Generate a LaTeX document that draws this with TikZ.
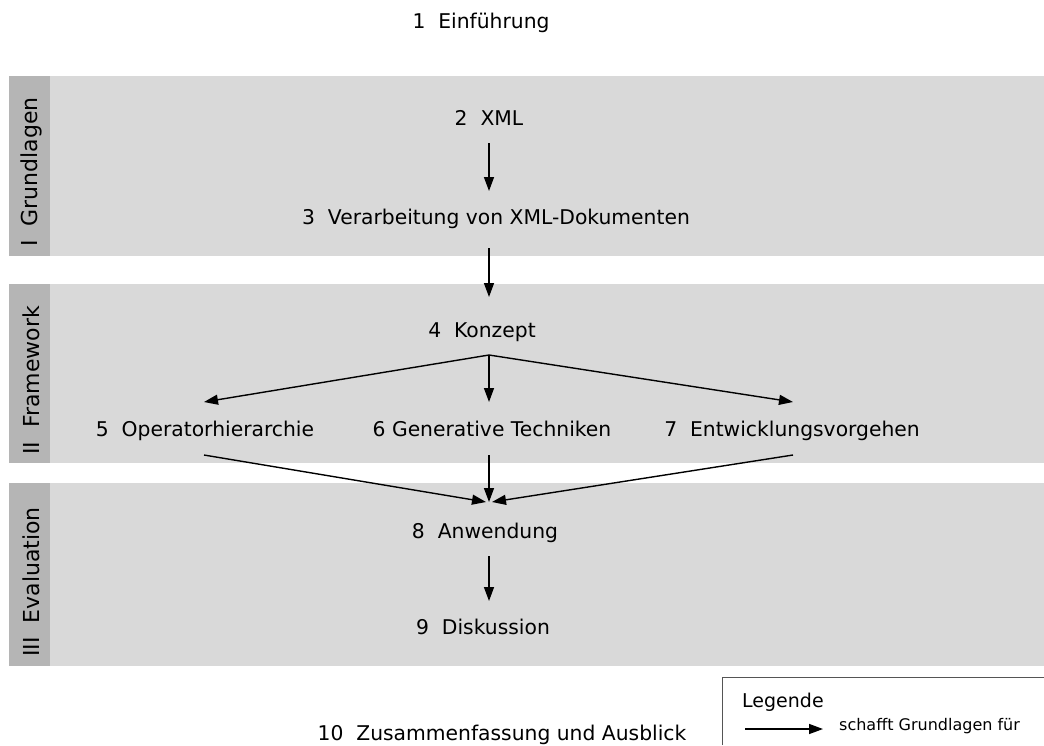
\documentclass[tikz,border=0pt]{standalone}
\usepackage{fontspec}
\setmainfont{DejaVu Sans}
\usetikzlibrary{arrows.meta}

\definecolor{bandfill}{HTML}{D9D9D9}
\definecolor{stripfill}{HTML}{B5B5B5}
\definecolor{legendline}{HTML}{555555}

\tikzset{
  chapter/.style={anchor=base, inner sep=0pt, font=\fontsize{20.3}{24}\selectfont},
  partlabel/.style={rotate=90, anchor=west, inner sep=0pt, font=\fontsize{22}{26}\selectfont},
  arr/.style={line width=1.4pt, -{Triangle[length=14pt,width=10pt]}},
}

\begin{document}
\begin{tikzpicture}[x=1pt, y=-1pt]
\useasboundingbox (0,0) rectangle (1044,745);

% part bands with their darker label strips
\foreach \top/\bot in {76/256, 284/463, 483/666} {
  \fill[bandfill] (9,\top) rectangle (1044,\bot);
  \fill[stripfill] (9,\top) rectangle (50,\bot);
}
\node[partlabel] (p1) at (31,247) {I\ \ Grundlagen};
\node[partlabel] (p2) at (31,455) {II\ \ Framework};
\node[partlabel] (p3) at (31,657) {III\ \ Evaluation};

% chapters
\node[chapter] (c1)  at (481,28)  {1\ \ Einführung};
\node[chapter] (c2)  at (489,125) {2\ \ XML};
\node[chapter] (c3)  at (496,224) {3\ \ Verarbeitung von XML-Dokumenten};
\node[chapter] (c4)  at (482,337) {4\ \ Konzept};
\node[chapter] (c5)  at (205,436) {5\ \ Operatorhierarchie};
\node[chapter] (c6)  at (492,436) {6 Generative Techniken};
\node[chapter] (c7)  at (792,436) {7\ \ Entwicklungsvorgehen};
\node[chapter] (c8)  at (485,538) {8\ \ Anwendung};
\node[chapter] (c9)  at (483,634) {9\ \ Diskussion};
\node[chapter] (c10) at (502,740) {10\ \ Zusammenfassung und Ausblick};

% connector end points
\coordinate (c2out) at (489,143);
\coordinate (c3in)  at (489,191);
\coordinate (c3out) at (489,248);
\coordinate (c4in)  at (489,297);
\coordinate (c4out) at (489,355);
\coordinate (c5in)  at (204,402);
\coordinate (c6in)  at (489,402);
\coordinate (c7in)  at (793,402);
\coordinate (c5out) at (204,455);
\coordinate (c6out) at (489,455);
\coordinate (c7out) at (793,455);
\coordinate (c8inL) at (486,502);
\coordinate (c8in)  at (489,502);
\coordinate (c8inR) at (492,502);
\coordinate (c8out) at (489,556);
\coordinate (c9in)  at (489,601);

\draw[arr] (c2out) -- (c3in);
\draw[arr] (c3out) -- (c4in);
\draw[arr] (c4out) -- (c5in);
\draw[arr] (c4out) -- (c6in);
\draw[arr] (c4out) -- (c7in);
\draw[arr] (c5out) -- (c8inL);
\draw[arr] (c6out) -- (c8in);
\draw[arr] (c7out) -- (c8inR);
\draw[arr] (c8out) -- (c9in);

% legend
\draw[legendline, line width=1pt] (722.5,745) -- (722.5,677.5) -- (1044,677.5);
\node[anchor=base west, inner sep=0pt, font=\fontsize{19}{22}\selectfont] (legtitle) at (742,707) {Legende};
\coordinate (legA) at (745,729);
\coordinate (legB) at (823,729);
\draw[arr] (legA) -- (legB);
\node[anchor=base west, inner sep=0pt, font=\fontsize{16}{19}\selectfont] (legtext) at (839,730) {schafft Grundlagen für};
\end{tikzpicture}
\end{document}
